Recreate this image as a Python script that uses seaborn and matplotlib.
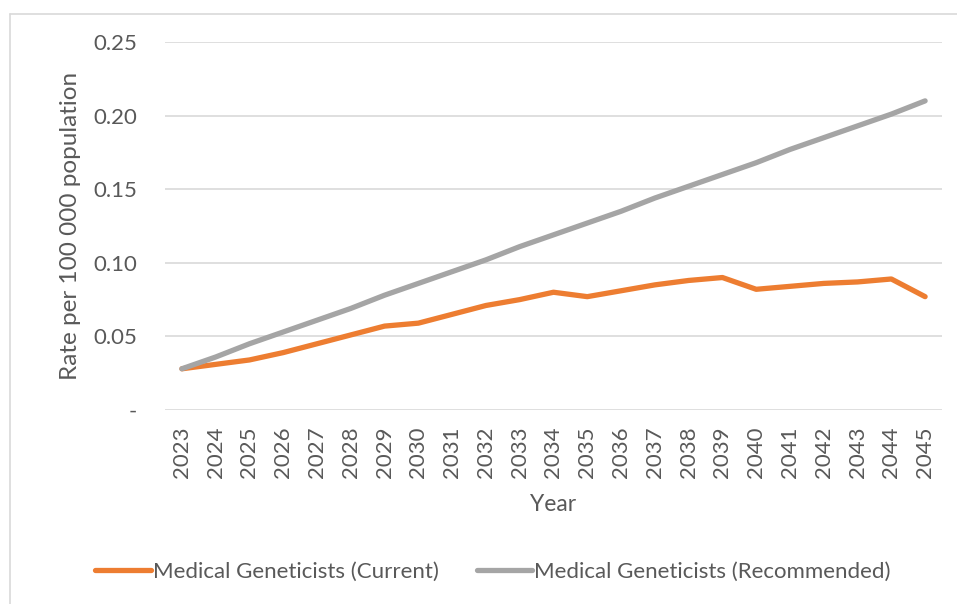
import pandas as pd
import matplotlib.pyplot as plt
import seaborn as sns
from matplotlib.lines import Line2D

# Data
years = [str(y) for y in range(2023, 2046)]
current = [0.028, 0.031, 0.034, 0.039, 0.045, 0.051, 0.057, 0.059, 0.065, 0.071,
           0.075, 0.080, 0.077, 0.081, 0.085, 0.088, 0.090, 0.082, 0.084, 0.086,
           0.087, 0.089, 0.077]
recommended = [0.028, 0.036, 0.045, 0.053, 0.061, 0.069, 0.078, 0.086, 0.094, 0.102,
               0.111, 0.119, 0.127, 0.135, 0.144, 0.152, 0.160, 0.168, 0.177, 0.185,
               0.193, 0.201, 0.210]
series_names = ['Medical Geneticists (Current)', 'Medical Geneticists (Recommended)']
yticks = [0, 0.05, 0.10, 0.15, 0.20, 0.25]
ytick_labels = ['-', '0.05', '0.10', '0.15', '0.20', '0.25']

df = pd.DataFrame({'Year': years * 2,
                   'Rate': current + recommended,
                   'Series': [series_names[0]] * len(years) + [series_names[1]] * len(years)})

sns.set_style("white")
plt.rcParams['font.family'] = ['Lato', 'DejaVu Sans']
txt = '#595959'
fs = 16
lw = 3.8

fig = plt.figure(figsize=(9.57, 6.04), dpi=100)
ax = fig.add_axes([165 / 957, 1 - 410 / 604, 777 / 957, 368 / 604])

palette = {series_names[0]: '#ED7D31', series_names[1]: '#A5A5A5'}
sns.lineplot(data=df, x='Year', y='Rate', hue='Series', palette=palette,
             sort=False, ax=ax, legend=False)
for ln in ax.lines:
    ln.set_linewidth(lw)
    ln.set_solid_capstyle('round')
    ln.set_solid_joinstyle('round')

ax.set_xlim(-0.5, len(years) - 0.5)
ax.set_ylim(0, 0.25)
ax.set_yticks(yticks)
ax.set_yticklabels(ytick_labels)
ax.yaxis.grid(True, color='#D9D9D9', linewidth=1.2)
ax.set_axisbelow(True)
for s in ax.spines.values():
    s.set_visible(False)
ax.tick_params(axis='both', length=0, labelsize=fs, colors=txt)
ax.tick_params(axis='y', pad=20)
ax.tick_params(axis='x', pad=12)
plt.setp(ax.get_xticklabels(), rotation=90)
ax.set_xlabel('Year', fontsize=fs + 0.5, color=txt, labelpad=11)
ax.set_ylabel('Rate per 100 000 population', fontsize=17.5, color=txt, labelpad=9)

handles = [Line2D([], [], color=palette[n], linewidth=lw, solid_capstyle='round') for n in series_names]
fig.legend(handles, series_names, loc='center', bbox_to_anchor=(493 / 957, 1 - 572 / 604),
           ncol=2, frameon=False, fontsize=fs, labelcolor=txt, handlelength=2.5,
           handletextpad=0.1, columnspacing=1.7)

# Outer chart border (top and left are visible in the reference)
fig.add_artist(Line2D([10 / 957, 10 / 957], [0, 1 - 14 / 604], transform=fig.transFigure,
                      color='#D9D9D9', linewidth=1.2))
fig.add_artist(Line2D([10 / 957, 1], [1 - 14 / 604, 1 - 14 / 604], transform=fig.transFigure,
                      color='#D9D9D9', linewidth=1.2))

fig.savefig('out.png', dpi=100)
